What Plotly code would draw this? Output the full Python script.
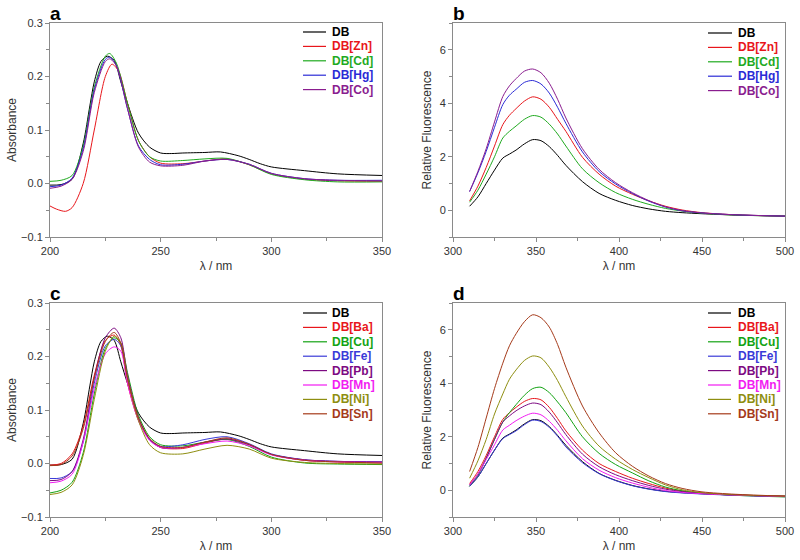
import plotly.graph_objects as go

# ---------------- data ----------------
# Panels a / c : absorbance vs wavelength (nm)
abs_x_db = [200, 205, 210, 215, 218, 220, 223, 226, 229, 232, 235, 240, 245, 250, 255, 260, 270, 277, 285, 290, 295, 300, 315, 330, 350]
abs_db = [-0.003, -0.002, 0.008, 0.075, 0.145, 0.19, 0.228, 0.238, 0.23, 0.19, 0.15, 0.094, 0.068, 0.057, 0.056, 0.057, 0.058, 0.059, 0.052, 0.045, 0.037, 0.031, 0.024, 0.018, 0.015]

abs_x = [200, 203, 207, 210, 215, 220, 225, 228, 231, 235, 240, 245, 250, 260, 270, 280, 290, 300, 315, 330, 350]
abs_zn = [-0.042, -0.048, -0.052, -0.045, 0.0, 0.1, 0.2, 0.223, 0.21, 0.15, 0.08, 0.05, 0.038, 0.037, 0.042, 0.046, 0.035, 0.018, 0.008, 0.005, 0.004]

abs_x2 = [200, 205, 210, 215, 220, 225, 227, 230, 235, 240, 245, 250, 260, 270, 280, 290, 300, 315, 330, 350]
abs_cd = [0.004, 0.006, 0.015, 0.07, 0.18, 0.238, 0.243, 0.225, 0.15, 0.08, 0.05, 0.042, 0.043, 0.046, 0.047, 0.035, 0.017, 0.007, 0.003, 0.003]
abs_hg = [-0.006, -0.003, 0.01, 0.065, 0.175, 0.232, 0.236, 0.22, 0.14, 0.07, 0.045, 0.035, 0.036, 0.042, 0.045, 0.036, 0.019, 0.009, 0.006, 0.006]
abs_co = [-0.009, -0.005, 0.008, 0.06, 0.17, 0.228, 0.233, 0.22, 0.14, 0.068, 0.04, 0.033, 0.034, 0.042, 0.045, 0.036, 0.019, 0.009, 0.006, 0.005]

abs_x3 = [200, 205, 210, 215, 220, 225, 229, 232, 235, 240, 245, 250, 260, 270, 280, 290, 300, 315, 330, 350]
abs_ba = [-0.003, 0.0, 0.018, 0.07, 0.165, 0.23, 0.24, 0.22, 0.15, 0.08, 0.045, 0.03, 0.028, 0.038, 0.046, 0.035, 0.017, 0.006, 0.003, 0.001]
abs_sn = [-0.004, -0.002, 0.014, 0.065, 0.16, 0.228, 0.245, 0.225, 0.16, 0.085, 0.047, 0.032, 0.03, 0.04, 0.048, 0.036, 0.017, 0.006, 0.003, 0.001]
abs_cu = [-0.055, -0.05, -0.035, 0.02, 0.13, 0.215, 0.235, 0.225, 0.17, 0.09, 0.05, 0.035, 0.033, 0.04, 0.045, 0.032, 0.012, 0.001, -0.001, -0.002]
abs_fe = [-0.028, -0.027, -0.015, 0.04, 0.15, 0.22, 0.232, 0.22, 0.16, 0.085, 0.045, 0.032, 0.035, 0.045, 0.05, 0.037, 0.018, 0.007, 0.004, 0.003]
abs_pb = [-0.032, -0.03, -0.015, 0.045, 0.16, 0.235, 0.253, 0.235, 0.165, 0.085, 0.045, 0.03, 0.03, 0.04, 0.046, 0.035, 0.017, 0.007, 0.004, 0.003]
abs_mn = [-0.036, -0.033, -0.02, 0.04, 0.14, 0.205, 0.218, 0.21, 0.15, 0.08, 0.043, 0.03, 0.03, 0.037, 0.042, 0.033, 0.016, 0.006, 0.003, 0.002]
abs_ni = [-0.058, -0.054, -0.04, 0.015, 0.12, 0.21, 0.238, 0.225, 0.16, 0.08, 0.035, 0.02, 0.018, 0.027, 0.034, 0.027, 0.01, 0.002, 0.0, -0.001]

# Panels b / d : relative fluorescence vs wavelength (nm)
fl_x = [310, 315, 320, 325, 330, 334, 338, 343, 348, 353, 358, 363, 368, 378, 388, 398, 408, 418, 428, 438, 450, 470, 500]
fl_db = [0.15, 0.5, 1.0, 1.5, 1.95, 2.1, 2.25, 2.48, 2.64, 2.6, 2.38, 2.05, 1.68, 1.07, 0.63, 0.37, 0.18, 0.05, -0.04, -0.09, -0.13, -0.18, -0.22]
fl_zn = [0.35, 0.9, 1.6, 2.4, 3.2, 3.55, 3.8, 4.08, 4.24, 4.15, 3.85, 3.4, 2.95, 1.98, 1.35, 0.9, 0.6, 0.35, 0.15, 0.01, -0.09, -0.17, -0.22]
fl_cd = [0.3, 0.75, 1.35, 2.0, 2.7, 2.95, 3.15, 3.4, 3.54, 3.48, 3.22, 2.85, 2.4, 1.55, 1.03, 0.66, 0.41, 0.22, 0.07, -0.03, -0.11, -0.18, -0.22]
fl_hg = [0.7, 1.4, 2.2, 3.1, 3.95, 4.3, 4.52, 4.78, 4.85, 4.72, 4.38, 3.85, 3.25, 2.18, 1.45, 0.98, 0.63, 0.34, 0.12, -0.02, -0.1, -0.17, -0.22]
fl_co = [0.7, 1.45, 2.3, 3.3, 4.25, 4.65, 4.92, 5.2, 5.28, 5.14, 4.75, 4.15, 3.45, 2.3, 1.53, 1.03, 0.66, 0.36, 0.13, -0.01, -0.1, -0.17, -0.22]
fl_fe = [0.15, 0.5, 1.0, 1.5, 1.93, 2.08, 2.22, 2.45, 2.62, 2.57, 2.35, 2.02, 1.62, 1.03, 0.62, 0.36, 0.17, 0.04, -0.05, -0.1, -0.14, -0.19, -0.24]
fl_ba = [0.25, 0.7, 1.3, 2.0, 2.65, 2.9, 3.1, 3.32, 3.43, 3.38, 3.1, 2.68, 2.22, 1.5, 1.0, 0.7, 0.45, 0.25, 0.08, -0.03, -0.11, -0.18, -0.23]
fl_cu = [0.15, 0.55, 1.2, 1.9, 2.55, 2.9, 3.2, 3.55, 3.8, 3.85, 3.65, 3.3, 2.9, 2.0, 1.38, 0.96, 0.65, 0.35, 0.12, -0.02, -0.11, -0.19, -0.25]
fl_pb = [0.2, 0.6, 1.2, 1.9, 2.55, 2.78, 2.97, 3.15, 3.26, 3.2, 2.92, 2.52, 2.08, 1.35, 0.88, 0.58, 0.36, 0.18, 0.04, -0.05, -0.12, -0.18, -0.23]
fl_mn = [0.2, 0.6, 1.15, 1.7, 2.25, 2.43, 2.6, 2.77, 2.88, 2.82, 2.58, 2.24, 1.85, 1.18, 0.75, 0.47, 0.27, 0.11, -0.01, -0.08, -0.13, -0.18, -0.23]
fl_ni = [0.45, 1.1, 1.9, 2.85, 3.6, 4.15, 4.5, 4.85, 5.02, 4.95, 4.6, 4.1, 3.5, 2.4, 1.65, 1.16, 0.78, 0.47, 0.2, 0.02, -0.09, -0.17, -0.22]
fl_sn = [0.7, 1.6, 2.7, 3.8, 4.75, 5.4, 5.85, 6.3, 6.56, 6.45, 6.1, 5.45, 4.6, 3.15, 2.15, 1.4, 0.9, 0.53, 0.25, 0.07, -0.06, -0.15, -0.22]

# series names and colours
names_a = ["DB", "DB[Zn]", "DB[Cd]", "DB[Hg]", "DB[Co]"]
names_c = ["DB", "DB[Ba]", "DB[Cu]", "DB[Fe]", "DB[Pb]", "DB[Mn]", "DB[Ni]", "DB[Sn]"]
colors = {
    "DB": "#000000", "DB[Zn]": "#e8161b", "DB[Cd]": "#1faa1f", "DB[Hg]": "#2b2bd6",
    "DB[Co]": "#8a1d8f", "DB[Ba]": "#e8161b", "DB[Cu]": "#13a313", "DB[Fe]": "#3a3ad8",
    "DB[Pb]": "#7d0a82", "DB[Mn]": "#f21cf2", "DB[Ni]": "#8e8e10", "DB[Sn]": "#a53a1a",
}

panel_a = [(abs_x_db, abs_db), (abs_x, abs_zn), (abs_x2, abs_cd), (abs_x2, abs_hg), (abs_x2, abs_co)]
panel_b = [(fl_x, fl_db), (fl_x, fl_zn), (fl_x, fl_cd), (fl_x, fl_hg), (fl_x, fl_co)]
panel_c = [(abs_x_db, abs_db), (abs_x3, abs_ba), (abs_x3, abs_cu), (abs_x3, abs_fe), (abs_x3, abs_pb),
           (abs_x3, abs_mn), (abs_x3, abs_ni), (abs_x3, abs_sn)]
panel_d = [(fl_x, fl_db), (fl_x, fl_ba), (fl_x, fl_cu), (fl_x, fl_fe), (fl_x, fl_pb),
           (fl_x, fl_mn), (fl_x, fl_ni), (fl_x, fl_sn)]

W, H = 800, 560
fig = go.Figure()

panels = [
    (panel_a, names_a, "x", "y"),
    (panel_b, names_a, "x2", "y2"),
    (panel_c, names_c, "x3", "y3"),
    (panel_d, names_c, "x4", "y4"),
]
for data, names, xa, ya in panels:
    for (xs, ys), nm in zip(data, names):
        fig.add_trace(go.Scatter(
            x=xs, y=ys, mode="lines", xaxis=xa, yaxis=ya, name=nm, showlegend=False,
            line=dict(color=colors[nm], width=1, shape="spline", smoothing=0.8),
        ))

font = "Liberation Sans, Arial, sans-serif"
left_l, right_l = 50, 382
left_r, right_r = 453, 785
top_t, bot_t = 23, 237
top_b, bot_b = 303, 517

def px(v):
    return v / W

def py(v):
    return 1 - v / H

axcol = "#8a8a8a"
axcommon = dict(showline=True, linecolor=axcol, linewidth=1, mirror=True, automargin=False,
                ticks="outside", ticklen=4, tickcolor=axcol, showgrid=False, zeroline=False,
                tickfont=dict(family=font, size=11, color="#333333"),
                title_font=dict(family=font, size=12, color="#333333"))
mn = dict(ticklen=3, ticks="outside", tickcolor=axcol)
xabs = dict(range=[200, 350], tickvals=[200, 250, 300, 350], minor=dict(tickvals=[225, 275, 325], **mn),
            title_text="λ / nm", title_standoff=5)
yabs = dict(range=[-0.1, 0.3], tickvals=[-0.1, 0.0, 0.1, 0.2, 0.3], tickformat=".1f",
            minor=dict(tickvals=[-0.05, 0.05, 0.15, 0.25], **mn),
            title_text="Absorbance", title_standoff=1)
xfl = dict(range=[300, 500], tickvals=[300, 350, 400, 450, 500],
           minor=dict(tickvals=[325, 375, 425, 475], **mn),
           title_text="λ / nm", title_standoff=5)
yfl = dict(range=[-1, 7], tickvals=[0, 2, 4, 6],
           minor=dict(tickvals=[-1, 1, 3, 5, 7], **mn),
           title_text="Relative Fluorescence", title_standoff=5)

fig.update_layout(
    width=W, height=H, margin=dict(l=0, r=0, t=0, b=0, autoexpand=False),
    paper_bgcolor="white", plot_bgcolor="white", showlegend=False,
    xaxis=dict(**axcommon, **xabs, domain=[px(left_l), px(right_l)], anchor="y"),
    yaxis=dict(**axcommon, **yabs, domain=[py(bot_t), py(top_t)], anchor="x"),
    xaxis2=dict(**axcommon, **xfl, domain=[px(left_r), px(right_r)], anchor="y2"),
    yaxis2=dict(**axcommon, **yfl, domain=[py(bot_t), py(top_t)], anchor="x2"),
    xaxis3=dict(**axcommon, **xabs, domain=[px(left_l), px(right_l)], anchor="y3"),
    yaxis3=dict(**axcommon, **yabs, domain=[py(bot_b), py(top_b)], anchor="x3"),
    xaxis4=dict(**axcommon, **xfl, domain=[px(left_r), px(right_r)], anchor="y4"),
    yaxis4=dict(**axcommon, **yfl, domain=[py(bot_b), py(top_b)], anchor="x4"),
)

# compact in-plot legends (sample line + bold coloured label)
legend_specs = [
    (names_a, 303, 326, 330, 32),
    (names_a, 708, 732, 736, 33),
    (names_c, 303, 327, 330, 313),
    (names_c, 708, 731, 736, 313),
]
for names, lx0, lx1, tx, y0 in legend_specs:
    for i, nm in enumerate(names):
        yy = y0 + i * 14.4
        c = colors[nm]
        fig.add_shape(type="line", xref="paper", yref="paper", x0=px(lx0), x1=px(lx1),
                      y0=py(yy), y1=py(yy), line=dict(color=c, width=1.2))
        fig.add_annotation(text=f"<b>{nm}</b>", xref="paper", yref="paper", x=px(tx), y=py(yy),
                           xanchor="left", yanchor="middle", showarrow=False,
                           font=dict(family=font, size=12, color=c))

# panel letters
for label, lx, ly in [("a", left_l, 13), ("b", left_r, 13), ("c", left_l, 293), ("d", left_r, 293)]:
    fig.add_annotation(text=f"<b>{label}</b>", xref="paper", yref="paper", x=px(lx - 1), y=py(ly),
                       xanchor="left", yanchor="middle", showarrow=False, borderpad=0,
                       font=dict(family=font, size=19, color="#000000"))

fig.write_html("out.html", config={"displayModeBar": False, "staticPlot": True},
               post_script="document.body.style.margin='0';")
